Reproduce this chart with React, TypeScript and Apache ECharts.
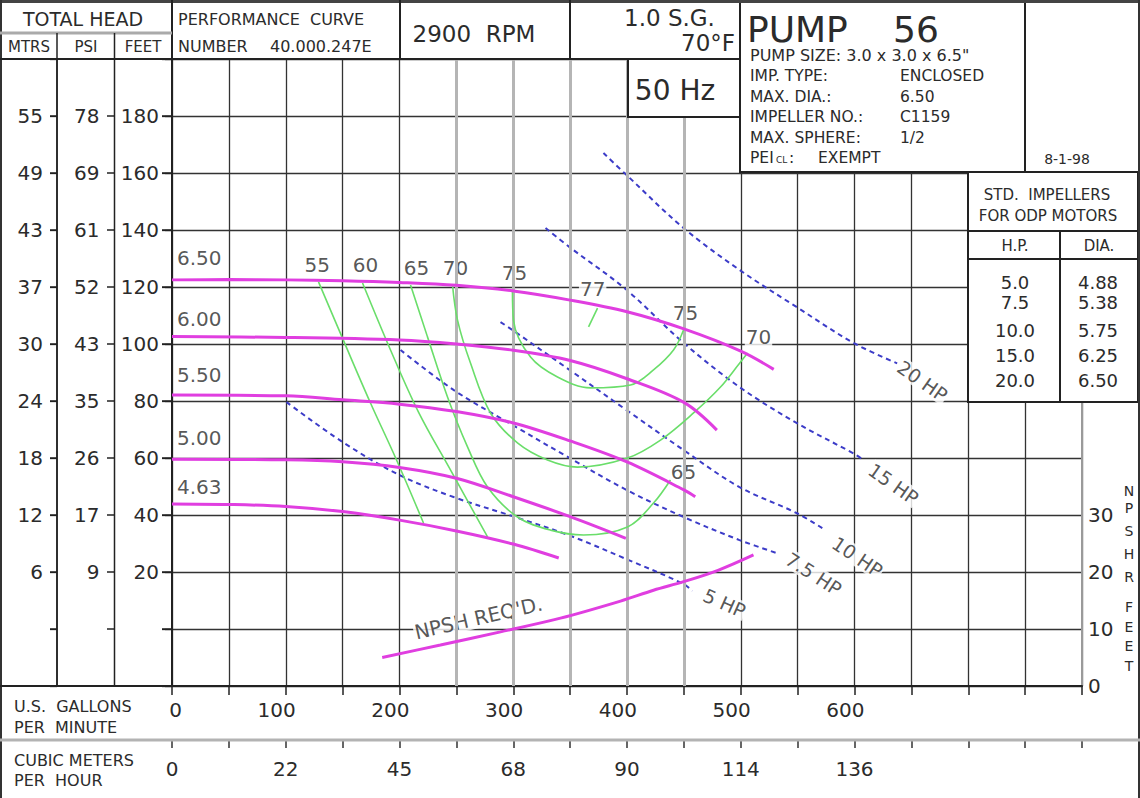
import React, { useEffect, useRef } from "react";
import * as echarts from "echarts";

const FONT = "DejaVu Sans";
const MAGENTA = "#e03ee0";
const GREEN = "#6ade6a";
const BLUE = "#3c3cc8";
const INK = "#2b2b2b";

// ---- axis tick labels ----
const gpmTickValues = [0, 100, 200, 300, 400, 500, 600];
const cmhTickLabels = ["0", "22", "45", "68", "90", "114", "136"];
const feetTickValues = [20, 40, 60, 80, 100, 120, 140, 160, 180];
const feetTickMarks = [0, 20, 40, 60, 80, 100, 120, 140, 160, 180];
const psiTickLabels = ["9", "17", "26", "35", "43", "52", "61", "69", "78"];
const mtrsTickLabels = ["6", "12", "18", "24", "30", "37", "43", "49", "55"];
const npshTickValues = [0, 10, 20, 30];
const heavyGridGpm = [250, 300, 350, 400, 450];

// ---- impeller head curves [GPM, feet] ----
const impellerNames = ["6.50", "6.00", "5.50", "5.00", "4.63"];
const head650 = [[0, 122.5], [50, 122.6], [100, 122.5], [150, 122.2], [200, 121.6], [250, 120.6], [300, 118.6], [350, 115.4], [400, 111.3], [450, 105.3], [500, 97.5], [529, 91.1]];
const head600 = [[0, 102.6], [100, 102.3], [200, 101.4], [250, 100], [300, 97.8], [350, 94.2], [400, 87.8], [450, 79.5], [479, 69.8]];
const head550 = [[0, 82.1], [100, 81.8], [150, 80.4], [200, 78.9], [250, 76.3], [300, 72.3], [350, 66.0], [400, 58.6], [450, 48.8], [460, 46.4]];
const head500 = [[0, 59.6], [100, 59.4], [150, 58.7], [200, 56.7], [250, 52.9], [300, 46.4], [350, 39.4], [399, 31.8]];
const head463 = [[0, 43.9], [50, 43.7], [100, 43.0], [150, 41.2], [200, 38.2], [250, 34.4], [300, 29.8], [340, 24.9]];
const impellerLabelHead = [130.2, 108.8, 89.1, 67.0, 49.9];

// ---- efficiency curves [GPM, feet] ----
const eff55 = [[128.8, 121.8], [152.5, 99.6], [174.5, 79.3], [197.4, 59.3], [221.1, 37.2]];
const eff60 = [[167.5, 121.4], [192.1, 97.9], [216.7, 76.1], [244.8, 55.8], [277.4, 32.3]];
const eff65 = [[209.7, 120.7], [224.6, 102.5], [242.2, 81.4], [259.8, 63.9], [277.4, 49.8], [303.7, 39.3], [332.8, 34.7], [361.8, 33.0], [400.4, 35.8], [423.3, 44.2], [438.2, 52.3]];
const eff70 = [[246.6, 120.7], [251.0, 108.4], [262.4, 93.3], [280.0, 75.8], [303.7, 65.3], [330.1, 59.3], [356.5, 56.8], [400.4, 60.0], [429.5, 66.3], [458.5, 75.8], [482.2, 84.9], [499.8, 93.7], [506.0, 96.8]];
const eff75 = [[299.3, 118.9], [300.2, 108.4], [315.2, 95.4], [338.9, 88.4], [367.9, 84.6], [403.1, 85.6], [423.3, 90.9], [440.9, 97.9], [449.7, 104.9]];
const eff77 = [[366.2, 106.0], [374.1, 112.6]];
const effLabelText = ["55", "60", "65", "70", "75", "77", "75", "70", "65"];
const effLabelGpm = [127.6, 170.1, 215.0, 249.2, 301.1, 369.8, 451.4, 515.6, 449.7];
const effLabelHead = [127.7, 127.7, 126.7, 126.7, 124.9, 119.3, 110.9, 102.6, 55.1];

// ---- horsepower lines [GPM, feet] ----
const hp5 = [[100.7, 79.6], [150, 65.6], [200, 54.0], [247.5, 46.3], [299.3, 39.6], [349.5, 32.8], [399.6, 24.5], [449.7, 15.8], [457.3, 13.3]];
const hp75 = [[200.9, 97.9], [247.5, 83.9], [299.3, 71.6], [349.5, 60.0], [399.6, 48.8], [449.7, 39.3], [498.9, 31.2], [532.0, 26.6]];
const hp10 = [[288.8, 107.7], [299.3, 104.9], [349.5, 90.9], [399.6, 76.8], [449.7, 62.8], [498.9, 49.8], [549.0, 40.7], [574.5, 34.7]];
const hp15 = [[328.4, 140.7], [349.5, 134.0], [399.6, 119.0], [449.7, 100.4], [498.9, 84.9], [549.0, 72.3], [599.1, 61.6], [607.9, 59.3]];
const hp20 = [[379.3, 167.0], [399.6, 159.3], [449.7, 140.7], [498.9, 126.0], [549.0, 113.0], [599.1, 100.4], [637.5, 93.2]];
const hpLabelText = ["20 HP", "15 HP", "10 HP", "7.5 HP", "5 HP"];
const hpLabelGpm = [659.8, 634.3, 602.6, 564.0, 485.7];
const hpLabelHead = [87.0, 50.9, 25.3, 19.3, 9.1];
const hpLabelAngle = [-35, -35, -34, -33, -24];

// ---- NPSH required [GPM, NPSH feet] ----
const npshReq = [[184.8, 5.0], [236, 7.2], [288.8, 9.5], [341.5, 11.9], [394.3, 14.9], [423.3, 16.8], [449.7, 18.3], [480, 20.3], [511.2, 23.0]];
const npshLabel = { text: "NPSH REQ'D.", gpm: 269.5, head: 3.9 };

// ---- header / table texts ----
const infoKeys = ["IMP. TYPE:", "MAX. DIA.:", "IMPELLER NO.:", "MAX. SPHERE:"];
const infoValues = ["ENCLOSED", "6.50", "C1159", "1/2"];
const stdHp = ["5.0", "7.5", "10.0", "15.0", "20.0"];
const stdDia = ["4.88", "5.38", "5.75", "6.25", "6.50"];

type Align = "left" | "center" | "right";
const T = (text: string, x: number, y: number, size: number, align: Align = "left", fill = INK) => ({
  type: "text",
  x,
  y,
  z: 102,
  silent: true,
  style: {
    text,
    fontSize: size,
    fontFamily: FONT,
    fill,
    textAlign: align,
    align,
    textVerticalAlign: "middle",
    verticalAlign: "middle",
  },
});
const L = (x1: number, y1: number, x2: number, y2: number, w = 2, c = "#222") => ({
  type: "line",
  z: 101,
  silent: true,
  shape: { x1, y1, x2, y2 },
  style: { stroke: c, lineWidth: w },
});
const R = (x: number, y: number, w: number, h: number, lw = 2) => ({
  type: "rect",
  z: 100,
  silent: true,
  shape: { x, y, width: w, height: h },
  style: { fill: "#fff", stroke: "#222", lineWidth: lw },
});

function buildGraphic() {
  const g: any[] = [];
  // frame & header lines
  g.push(R(0, 0, 740, 59, 0));
  g.push(L(0, 1.5, 1140, 1.5, 3, "#444"));
  g.push(L(1, 0, 1, 798, 2, "#333"));
  g.push(L(1139, 0, 1139, 798, 2, "#333"));
  g.push(L(0, 59, 740, 59, 2));
  g.push(L(172, 0, 172, 59, 2));
  g.push(L(400, 0, 400, 59, 2));
  g.push(L(570, 0, 570, 59, 2));
  g.push(L(0, 33, 172, 33, 3, "#aaa"));
  g.push(L(57, 33, 57, 686, 1.5));
  g.push(L(114.5, 33, 114.5, 686, 1.5));
  g.push(L(0, 686, 172, 686, 2));
  g.push(L(0, 740, 1140, 740, 3, "#b3b3b3"));
  // boxes
  g.push(R(628, 59, 112, 58));
  g.push(R(740, 0, 285, 172));
  g.push(R(1025, 0, 115, 172));
  g.push(R(968, 172, 170, 230));
  g.push(L(968, 231, 1138, 231));
  g.push(L(968, 259, 1138, 259));
  g.push(L(1060, 231, 1060, 402));
  // header texts
  g.push(T("TOTAL HEAD", 83, 19, 19, "center"));
  g.push(T("MTRS", 29, 47, 15, "center"));
  g.push(T("PSI", 86, 47, 15, "center"));
  g.push(T("FEET", 143, 47, 15, "center"));
  g.push(T("PERFORMANCE  CURVE", 178, 19, 16));
  g.push(T("NUMBER", 178, 46, 16));
  g.push(T("40.000.247E", 270, 46, 16));
  g.push(T("2900  RPM", 474, 34, 23, "center"));
  g.push(T("1.0 S.G.", 624, 18, 23));
  g.push(T("70°F", 735, 43, 23, "right"));
  g.push(T("50 Hz", 675, 90, 28, "center"));
  // pump box
  g.push(T("PUMP", 747, 29, 36));
  g.push(T("56", 893, 29, 36));
  g.push(T('PUMP SIZE: 3.0 x 3.0 x 6.5"', 750, 55, 16));
  const rowY = [76, 97, 117, 138];
  infoKeys.forEach((k, i) => {
    g.push(T(k, 750, rowY[i], 15.5));
    g.push(T(infoValues[i], 900, rowY[i], 15.5));
  });
  g.push(T("PEI", 750, 158, 15.5));
  g.push(T("CL", 776, 160, 9));
  g.push(T(":", 789, 158, 15.5));
  g.push(T("EXEMPT", 818, 158, 15.5));
  g.push(T("8-1-98", 1067, 159, 14, "center"));
  // std impeller table
  g.push(T("STD.  IMPELLERS", 1047, 195, 15, "center"));
  g.push(T("FOR ODP MOTORS", 1048, 216, 15, "center"));
  g.push(T("H.P.", 1015, 246, 15, "center"));
  g.push(T("DIA.", 1099, 246, 15, "center"));
  const stdY = [282, 302, 330, 355, 380];
  stdHp.forEach((h, i) => {
    g.push(T(h, 1015, stdY[i], 18, "center"));
    g.push(T(stdDia[i], 1098, stdY[i], 18, "center"));
  });
  // bottom labels
  g.push(T("U.S.  GALLONS", 14, 706, 16));
  g.push(T("PER  MINUTE", 14, 727, 16));
  g.push(T("CUBIC METERS", 14, 760, 16));
  g.push(T("PER  HOUR", 14, 780, 16));
  // right vertical NPSH title
  const letters = ["N", "P", "S", "H", "R", "F", "E", "E", "T"];
  const letterY = [491, 508, 531, 554, 577, 607, 627, 646, 666];
  letters.forEach((c, i) => g.push(T(c, 1129, letterY[i], 14, "center")));
  return g;
}

const curve = (data: number[][], color: string, width: number, z: number, extra: any = {}) => ({
  type: "line",
  data,
  smooth: 0.35,
  symbol: "none",
  silent: true,
  z,
  lineStyle: { color, width, ...extra },
});

function buildOption(): any {
  const impellers = [head650, head600, head550, head500, head463];
  const effs = [eff55, eff60, eff65, eff70, eff75, eff77];
  const hps = [hp5, hp75, hp10, hp15, hp20];
  const labelBase = {
    show: true,
    fontFamily: FONT,
    color: INK,
    backgroundColor: "#fff",
    padding: [0, 1],
  };
  const series: any[] = [
    {
      type: "line",
      data: [],
      z: 1,
      silent: true,
      markLine: {
        silent: true,
        symbol: ["none", "none"],
        label: { show: false },
        lineStyle: { color: "#b5b5b5", width: 3, type: "solid" },
        data: heavyGridGpm.map((v) => ({ xAxis: v })),
      },
    },
    ...impellers.map((d) => curve(d, MAGENTA, 3, 6)),
    ...effs.map((d) => curve(d, GREEN, 1.6, 5)),
    ...hps.map((d) => curve(d, BLUE, 2, 4, { type: [5, 4] })),
    { ...curve(npshReq, MAGENTA, 3, 6), yAxisIndex: 3 },
    {
      type: "scatter",
      z: 3,
      silent: true,
      symbolSize: 1,
      itemStyle: { color: "rgba(0,0,0,0)" },
      data: impellerNames.map((n, i) => ({ name: n, value: [3, impellerLabelHead[i]] })),
      label: { ...labelBase, position: "right", distance: 0, fontSize: 20, formatter: (p: any) => p.name },
    },
    {
      type: "scatter",
      z: 3,
      silent: true,
      symbolSize: 1,
      itemStyle: { color: "rgba(0,0,0,0)" },
      data: effLabelText.map((n, i) => ({ name: n, value: [effLabelGpm[i], effLabelHead[i]] })),
      label: { ...labelBase, position: "inside", fontSize: 20, formatter: (p: any) => p.name },
    },
    {
      type: "scatter",
      z: 3,
      silent: true,
      symbolSize: 1,
      itemStyle: { color: "rgba(0,0,0,0)" },
      data: hpLabelText.map((n, i) => ({
        name: n,
        value: [hpLabelGpm[i], hpLabelHead[i]],
        label: { rotate: hpLabelAngle[i] },
      })),
      label: { ...labelBase, position: "inside", fontSize: 19, formatter: (p: any) => p.name },
    },
    {
      type: "scatter",
      z: 3,
      silent: true,
      symbolSize: 1,
      itemStyle: { color: "rgba(0,0,0,0)" },
      data: [{ name: npshLabel.text, value: [npshLabel.gpm, npshLabel.head], label: { rotate: 13 } }],
      label: { ...labelBase, position: "inside", fontSize: 20, formatter: (p: any) => p.name },
    },
  ];

  const yBase = { type: "value", min: -20, max: 200, interval: 20, position: "left" };
  const tickLabelStyle = { fontFamily: FONT, fontSize: 20, color: INK };
  return {
    animation: false,
    backgroundColor: "#fff",
    textStyle: { fontFamily: FONT },
    grid: { left: 172, right: 58, top: 59, bottom: 112, containLabel: false },
    xAxis: [
      {
        type: "value",
        min: 0,
        max: 800,
        interval: 50,
        position: "bottom",
        axisLine: { show: true, onZero: false, lineStyle: { color: "#222", width: 2 } },
        axisTick: { show: true, length: 9, lineStyle: { color: "#222", width: 1.5 } },
        axisLabel: {
          ...tickLabelStyle,
          margin: 14,
          align: "right",
          padding: [0, -10, 0, 0],
          formatter: (v: number) => (gpmTickValues.includes(v) ? String(v) : ""),
        },
        splitLine: { show: true, lineStyle: { color: "#333", width: 1.3 } },
      },
      {
        type: "value",
        min: 0,
        max: 800,
        interval: 50,
        position: "bottom",
        offset: 54,
        axisLine: { show: false, onZero: false },
        axisTick: { show: true, length: 8, lineStyle: { color: "#333", width: 1.5 } },
        axisLabel: {
          ...tickLabelStyle,
          margin: 19,
          formatter: (v: number) => {
            const i = gpmTickValues.indexOf(v);
            return i >= 0 ? cmhTickLabels[i] : "";
          },
        },
        splitLine: { show: false },
      },
    ],
    yAxis: [
      {
        ...yBase,
        axisLine: { show: true, lineStyle: { color: "#222", width: 2 } },
        axisTick: { show: true, length: 10, lineStyle: { color: "#222", width: 1.3 } },
        axisLabel: {
          ...tickLabelStyle,
          margin: 13,
          formatter: (v: number) => (feetTickValues.includes(v) ? String(v) : ""),
        },
        splitLine: { show: true, lineStyle: { color: "#333", width: 1.3 } },
      },
      {
        ...yBase,
        offset: 57.5,
        axisLine: { show: true, lineStyle: { color: "#222", width: 1.5 } },
        axisTick: { show: true, length: 7, lineStyle: { color: "#222", width: 1.3 } },
        axisLabel: {
          ...tickLabelStyle,
          margin: 15,
          formatter: (v: number) => {
            const i = feetTickValues.indexOf(v);
            return i >= 0 ? psiTickLabels[i] : "";
          },
        },
        splitLine: { show: false },
      },
      {
        ...yBase,
        offset: 115,
        axisLine: { show: true, lineStyle: { color: "#222", width: 1.5 } },
        axisTick: { show: true, length: 7, lineStyle: { color: "#222", width: 1.3 } },
        axisLabel: {
          ...tickLabelStyle,
          margin: 14,
          formatter: (v: number) => {
            const i = feetTickValues.indexOf(v);
            return i >= 0 ? mtrsTickLabels[i] : "";
          },
        },
        splitLine: { show: false },
      },
      {
        type: "value",
        min: 0,
        max: 110,
        interval: 10,
        position: "right",
        axisLine: { show: true, lineStyle: { color: "#9a9a9a", width: 2 } },
        axisTick: { show: false },
        axisLabel: {
          ...tickLabelStyle,
          margin: 6,
          formatter: (v: number) => (npshTickValues.includes(v) ? String(v) : ""),
        },
        splitLine: { show: false },
      },
    ],
    series,
    graphic: { elements: buildGraphic() },
  };
}

export default function App() {
  const ref = useRef<HTMLDivElement>(null);
  useEffect(() => {
    document.body.style.margin = "0";
    const chart = echarts.init(ref.current as HTMLDivElement, null, { renderer: "svg" });
    const option = buildOption();
    chart.setOption(option);
    // column tick marks placed through the head axis' own scale
    const ticks: any[] = [];
    feetTickMarks.forEach((v) => {
      const y = chart.convertToPixel({ yAxisIndex: 0 }, v) as number;
      ticks.push(L(50, y, 57, y, 1.5));
      ticks.push(L(107, y, 114.5, y, 1.5));
      ticks.push(L(162, y, 172, y, 1.5));
    });
    chart.setOption({ graphic: { elements: [...option.graphic.elements, ...ticks] } });
    return () => chart.dispose();
  }, []);
  return <div ref={ref} style={{ width: 1140, height: 798, background: "#fff" }} />;
}
